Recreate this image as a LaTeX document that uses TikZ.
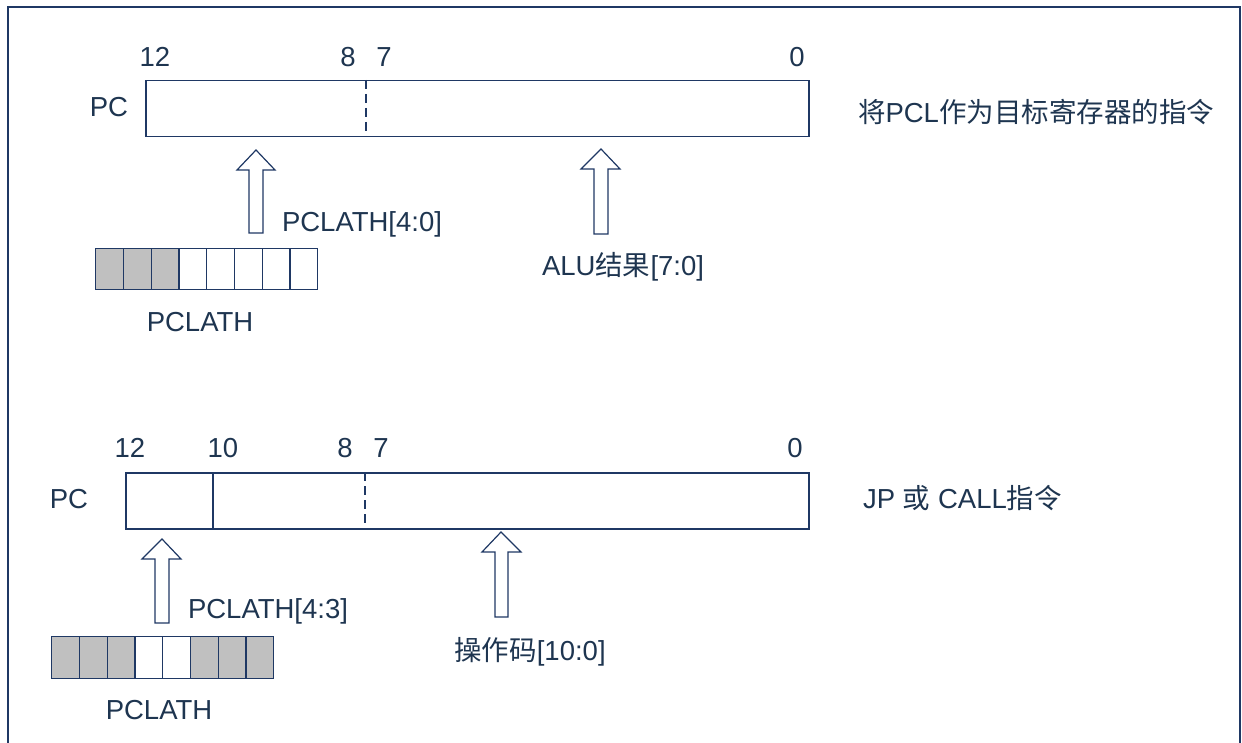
\documentclass[tikz,border=0pt]{standalone}
\usepackage{fontspec}
\setmainfont{Liberation Sans}
\newfontfamily\cjk{Noto Sans CJK SC}
\definecolor{ink}{HTML}{1E3550}
\definecolor{line}{HTML}{1F3864}
\definecolor{cellgray}{HTML}{C0C0C0}
\begin{document}
\begin{tikzpicture}[x=1pt,y=-1pt,
  lbl/.style={inner sep=0pt,text=ink,font=\fontsize{27.5}{30}\selectfont},
  regbox/.style={draw=line,line width=1.5pt,fill=white},
  cellw/.style={draw=line,line width=1.3pt,fill=white},
  cellg/.style={draw=line,line width=1.3pt,fill=cellgray},
  divdash/.style={line,line width=1.5pt,dash pattern=on 9pt off 5pt},
  blockarrow/.style={draw=line,line width=1.2pt,fill=white,line join=miter}]
\useasboundingbox (0,0) rectangle (1242,743);
% frame
\draw[line,line width=2pt] (8,743) -- (8,7) -- (1240,7) -- (1240,743);

% ---------- top PC ----------
\node[regbox,minimum width=663pt,minimum height=56pt,anchor=north west,inner sep=0pt] (pc1) at (145,80) {};
\draw[divdash] (366,80) -- (366,136);
\node[lbl] (pc1lab) at (109,107) {PC};
\node[lbl] (t12) at (155,57) {12};
\node[lbl] (t8) at (348,57) {8};
\node[lbl] (t7) at (384,57) {7};
\node[lbl] (t0) at (797,57) {0};
\node[lbl] (desc1) at (1036,112) {{\cjk 将}PCL{\cjk 作为目标寄存器的指令}};

% arrow 1
\draw[blockarrow] (256,150) -- (275,170) -- (263,170) -- (263,233) -- (249,233) -- (249,170) -- (237,170) -- cycle;
\node[lbl] (a1lab) at (362,224) {PCLATH[4:0]};
% arrow 2
\draw[blockarrow] (601,149) -- (620,169) -- (608,169) -- (608,234) -- (594,234) -- (594,169) -- (581,169) -- cycle;
\node[lbl] (a2lab) at (623,267) {ALU{\cjk 结果}[7:0]};

% PCLATH register 1
\foreach \i/\s in {0/cellg,1/cellg,2/cellg,3/cellw,4/cellw,5/cellw,6/cellw,7/cellw}{
  \node[\s,minimum width=27.75pt,minimum height=41pt,inner sep=0pt,anchor=north west] (r1c\i) at ({95+27.75*\i},248) {};
}
\node[lbl] (r1lab) at (200,322) {PCLATH};

% ---------- bottom PC ----------
\node[regbox,minimum width=683pt,minimum height=56pt,anchor=north west,inner sep=0pt] (pc2) at (125,472) {};
\draw[line,line width=1.5pt] (213,472) -- (213,528);
\draw[divdash] (365,472) -- (365,528);
\node[lbl] (pc2lab) at (69,499) {PC};
\node[lbl] (b12) at (130,448) {12};
\node[lbl] (b10) at (223,448) {10};
\node[lbl] (b8) at (345,448) {8};
\node[lbl] (b7) at (381,448) {7};
\node[lbl] (b0) at (795,448) {0};
\node[lbl,anchor=west] (desc2) at (863,498) {JP {\cjk 或} CALL{\cjk 指令}};

% arrow 3
\draw[blockarrow] (162,539) -- (181,559) -- (169,559) -- (169,623) -- (155,623) -- (155,559) -- (142,559) -- cycle;
\node[lbl] (a3lab) at (268,611) {PCLATH[4:3]};
% arrow 4
\draw[blockarrow] (501,532) -- (521,552) -- (508,552) -- (508,617) -- (495,617) -- (495,552) -- (482,552) -- cycle;
\node[lbl] (a4lab) at (530,652) {{\cjk 操作码}[10:0]};

% PCLATH register 2
\foreach \i/\s in {0/cellg,1/cellg,2/cellg,3/cellw,4/cellw,5/cellg,6/cellg,7/cellg}{
  \node[\s,minimum width=27.75pt,minimum height=42pt,inner sep=0pt,anchor=north west] (r2c\i) at ({51+27.75*\i},636) {};
}
\node[lbl] (r2lab) at (159,710) {PCLATH};
\end{tikzpicture}
\end{document}
